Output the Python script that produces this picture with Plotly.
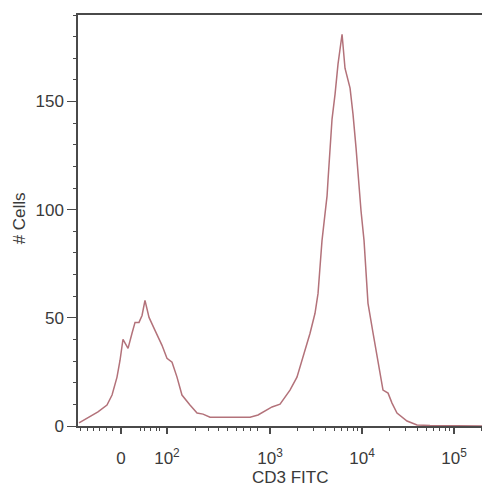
import plotly.graph_objects as go

# CD3 FITC on a biexponential display scale (position in display decades)
cd3_fitc_display = [
    0.924, 1.022, 1.130, 1.228, 1.283, 1.337, 1.370, 1.402, 1.457, 1.500,
    1.533, 1.576, 1.609, 1.641, 1.685, 1.750, 1.826, 1.880, 1.935, 1.989,
    2.043, 2.130, 2.207, 2.272, 2.348, 2.565, 2.783, 2.870, 2.946, 3.022,
    3.109, 3.217, 3.293, 3.359, 3.435, 3.489, 3.522, 3.543, 3.565, 3.598,
    3.620, 3.630, 3.652, 3.674, 3.707, 3.739, 3.783, 3.815, 3.870, 3.902,
    3.935, 3.957, 3.989, 4.022, 4.043, 4.065, 4.120, 4.174, 4.228, 4.283,
    4.326, 4.380, 4.489, 4.598, 4.739, 5.391,
]
cell_counts = [
    1.4, 3.7, 6.5, 9.7, 14.3, 22.6, 30.4, 40.1, 35.9, 42.9,
    47.9, 47.9, 51.1, 58.1, 50.2, 44.2, 37.3, 31.3, 29.5, 22.6,
    14.3, 9.7, 6.0, 5.5, 4.1, 4.1, 4.1, 5.1, 6.9, 8.8,
    10.1, 16.6, 22.6, 31.8, 42.9, 52.1, 61.3, 73.3, 85.7, 98.2,
    106.4, 113.4, 128.6, 141.9, 153.4, 167.3, 181.1, 165.4, 156.2, 144.2,
    128.6, 114.7, 99.5, 85.7, 73.3, 56.7, 42.9, 30.4, 16.6, 15.2,
    10.6, 6.0, 2.3, 0.5, 0.2, 0.0,
]

# axis ticks (display positions)
x_tick_pos = [1.38, 1.88, 3.0, 4.0, 5.0]
x_tick_text = ["0", "10<sup>2</sup>", "10<sup>3</sup>", "10<sup>4</sup>", "10<sup>5</sup>"]
x_minor_pos = [
    0.935, 1.011, 1.076, 1.152, 1.228, 1.293,
    1.587, 1.641, 1.696, 1.761, 1.804,
    2.185, 2.326, 2.435, 2.543, 2.641, 2.707, 2.783, 2.859,
    3.301, 3.477, 3.602, 3.699, 3.778, 3.845, 3.903, 3.954,
    4.301, 4.477, 4.602, 4.699, 4.778, 4.845, 4.903, 4.954,
    5.301,
]
y_tick_vals = [0, 50, 100, 150]

axis_color = "#4a4a4a"
font_family = "Liberation Sans, Arial, sans-serif"

fig = go.Figure()
fig.add_trace(go.Scatter(
    x=cd3_fitc_display, y=cell_counts, mode="lines",
    line=dict(color="#b3727a", width=1.5, shape="linear"),
    hoverinfo="skip", showlegend=False,
))

fig.update_layout(
    width=490, height=488,
    margin=dict(l=70, r=8, t=5, b=70),
    paper_bgcolor="white", plot_bgcolor="white",
    font=dict(family=font_family, size=17, color="#3a3a3a"),
    xaxis=dict(
        range=[0.913, 5.391], showgrid=False, zeroline=False,
        showline=True, linecolor=axis_color, linewidth=1.5, mirror=True,
        tickmode="array", tickvals=x_tick_pos, ticktext=x_tick_text,
        ticks="outside", ticklen=6, tickwidth=1.5, tickcolor=axis_color,
        ticklabelstandoff=10,
        minor=dict(tickmode="array", tickvals=x_minor_pos, ticks="outside",
                   ticklen=3, tickwidth=1, tickcolor=axis_color, showgrid=False),
    ),
    yaxis=dict(
        range=[0, 190], showgrid=False, zeroline=False,
        showline=True, linecolor=axis_color, linewidth=1.5, mirror=False,
        tickmode="array", tickvals=y_tick_vals,
        ticks="outside", ticklen=9, tickwidth=1.2, tickcolor=axis_color,
        minor=dict(dtick=10, tick0=0, ticks="outside", ticklen=3,
                   tickwidth=1, tickcolor=axis_color, showgrid=False),
    ),
    annotations=[
        dict(text="CD3 FITC", xref="x", yref="paper", x=3.22, y=0,
             yanchor="middle", xanchor="center", yshift=-51, showarrow=False,
             font=dict(family=font_family, size=17, color="#3a3a3a")),
        dict(text="# Cells", xref="paper", yref="y", x=0, y=96,
             xanchor="center", yanchor="middle", xshift=-59, textangle=-90,
             showarrow=False,
             font=dict(family=font_family, size=17, color="#3a3a3a")),
    ],
)

fig.write_html("out.html")
